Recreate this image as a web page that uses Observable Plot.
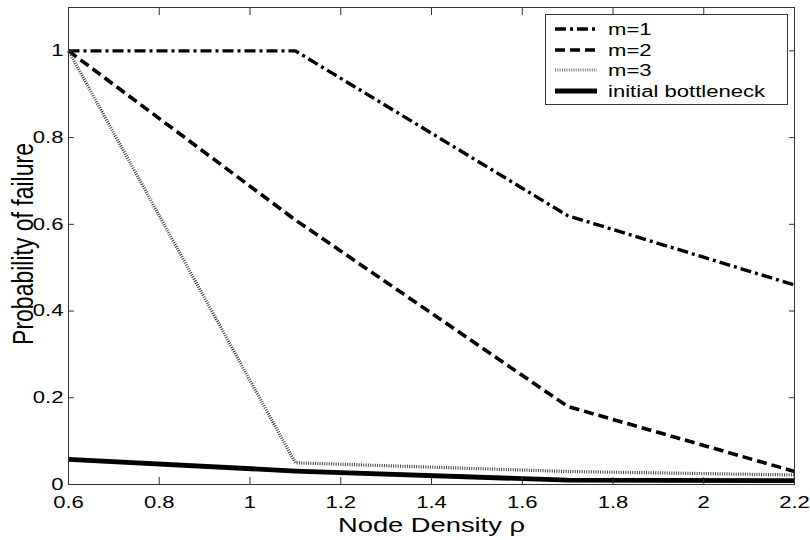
<!DOCTYPE html>
<html>
<head>
<meta charset="utf-8">
<script src="https://cdn.jsdelivr.net/npm/d3@7"></script>
<script src="https://cdn.jsdelivr.net/npm/@observablehq/plot@0.6"></script>
<style>
  body { margin: 0; background: white; }
  #wrap { position: relative; width: 810px; height: 540px; }
  #legend { position: absolute; left: 0; top: 0; }
</style>
</head>
<body>
<div id="wrap"></div>
<script>
// ---- data ----
const density = [0.6, 1.1, 1.7, 2.2];
const m1 = [1, 1, 0.62, 0.46];
const m2 = [1, 0.61, 0.18, 0.03];
const m3 = [1, 0.05, 0.03, 0.022];
const bottleneck = [0.058, 0.031, 0.01, 0.009];
const seriesNames = ["m=1", "m=2", "m=3", "initial bottleneck"];
const xTicks = [0.6, 0.8, 1, 1.2, 1.4, 1.6, 1.8, 2, 2.2];
const yTicks = [0, 0.2, 0.4, 0.6, 0.8, 1];
const xLabel = "Node Density ρ";
const yLabel = "Probability of failure";

const styles = [
  {stroke: "black", strokeWidth: 3.4, strokeDasharray: "11,4,3,4"},
  {stroke: "black", strokeWidth: 3.6, strokeDasharray: "10,5"},
  {stroke: "#444", strokeWidth: 3.2, strokeDasharray: "1,1.3"},
  {stroke: "black", strokeWidth: 4.8, strokeDasharray: null}
];
const values = [m1, m2, m3, bottleneck];
const tables = values.map(v => density.map((x, i) => ({x, y: v[i]})));
const fmt = d3.format("~g");
const blank = () => "";

const chart = Plot.plot({
  width: 810,
  height: 540,
  marginLeft: 68,
  marginRight: 16,
  marginTop: 7,
  marginBottom: 56,
  x: {domain: [0.6, 2.2]},
  y: {domain: [0, 1.1]},
  style: {fontFamily: "'Liberation Sans', Arial, sans-serif", fontSize: "17px", background: "white", color: "black"},
  marks: [
    ...tables.map((t, i) => Plot.line(t, {x: "x", y: "y", ...styles[i], strokeLinecap: "butt", strokeLinejoin: "round"})),
    Plot.frame({stroke: "#333", strokeWidth: 1}),
    Plot.axisX({ticks: xTicks, anchor: "bottom", tickSize: 7, dy: -7, tickFormat: blank, label: null, stroke: "#333"}),
    Plot.axisX({ticks: xTicks, anchor: "top", tickSize: 7, dy: 7, tickFormat: blank, label: null, stroke: "#333"}),
    Plot.axisY({ticks: yTicks, anchor: "left", tickSize: 6, dx: 6, tickFormat: blank, label: null, stroke: "#333"}),
    Plot.axisY({ticks: yTicks, anchor: "right", tickSize: 6, dx: -6, tickFormat: blank, label: null, stroke: "#333"}),
    Plot.axisX({ticks: xTicks, anchor: "bottom", tickSize: 0, tickPadding: 11, tickFormat: fmt, label: null, fontSize: 17}),
    Plot.axisY({ticks: yTicks, anchor: "left", tickSize: 0, tickPadding: 5, tickFormat: fmt, label: null, fontSize: 17}),
    Plot.text([xLabel], {text: d => d, frameAnchor: "bottom", textAnchor: "middle", lineAnchor: "middle", dy: 41, fontSize: 21}),
    Plot.text([yLabel], {text: d => d, frameAnchor: "left", textAnchor: "middle", lineAnchor: "middle", rotate: -90, dx: -45, dy: -2, fontSize: 23})
  ]
});

const wrap = document.getElementById("wrap");
wrap.appendChild(chart);

// the reference is horizontally stretched: widen glyphs around their anchors
const SX = 1.3;
chart.querySelectorAll("text").forEach(t => {
  const tr = t.getAttribute("transform") || "";
  if (/rotate/.test(tr)) {
    t.setAttribute("transform", tr + ` scale(1,${SX})`);
  } else {
    const ax = parseFloat(t.getAttribute("x") || "0");
    t.setAttribute("transform", tr + ` translate(${ax},0) scale(${SX},1) translate(${-ax},0)`);
  }
});

// legend overlay
const ns = "http://www.w3.org/2000/svg";
const leg = document.createElementNS(ns, "svg");
leg.setAttribute("id", "legend");
leg.setAttribute("width", 810);
leg.setAttribute("height", 540);
leg.style.pointerEvents = "none";
const box = document.createElementNS(ns, "rect");
box.setAttribute("x", 545.5); box.setAttribute("y", 14.5);
box.setAttribute("width", 242); box.setAttribute("height", 90);
box.setAttribute("fill", "white"); box.setAttribute("stroke", "#333");
leg.appendChild(box);
const rowY = [29, 50, 70, 91];
seriesNames.forEach((name, i) => {
  const s = styles[i];
  const ln = document.createElementNS(ns, "line");
  ln.setAttribute("x1", 555); ln.setAttribute("x2", 597);
  ln.setAttribute("y1", rowY[i]); ln.setAttribute("y2", rowY[i]);
  ln.setAttribute("stroke", i === 2 ? "#777" : s.stroke);
  ln.setAttribute("stroke-width", s.strokeWidth);
  if (s.strokeDasharray) ln.setAttribute("stroke-dasharray", s.strokeDasharray);
  leg.appendChild(ln);
  const tx = document.createElementNS(ns, "text");
  tx.setAttribute("transform", `translate(608,${rowY[i] + 6}) scale(${SX},1)`);
  tx.setAttribute("font-family", "'Liberation Sans', Arial, sans-serif");
  tx.setAttribute("font-size", 17);
  tx.textContent = name;
  leg.appendChild(tx);
});
wrap.appendChild(leg);
</script>
</body>
</html>
